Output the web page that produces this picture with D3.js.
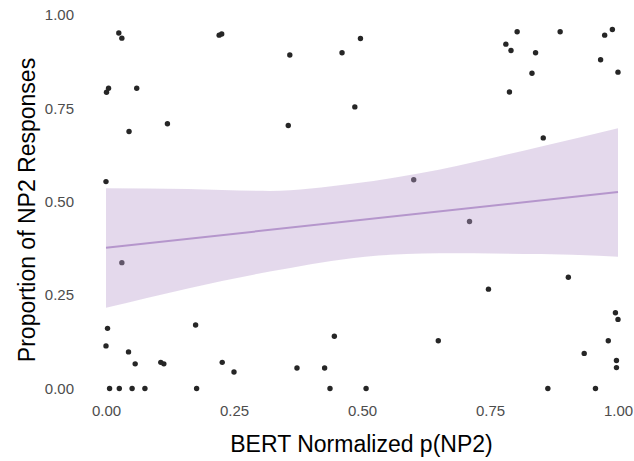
<!DOCTYPE html>
<html lang="en">
<head>
    <meta charset="UTF-8">
    <script src="https://d3js.org/d3.v7.min.js"></script>
    <title>BERT Normalized p(NP2) vs Proportion of NP2 Responses</title>
    <style>
        body { margin: 0; background: #fff; }
        text { font-family: "Liberation Sans", Arial, sans-serif; }
    </style>
</head>
<body>
    <svg id="chart"></svg>
    <script>
        // points (x = BERT normalized p(NP2), y = proportion of NP2 responses)
        const pointX = [0.025, 0.031, 0.221, 0.226, 0.005, 0.001, 0.060, 0.120, 0.045, 0.000,
            0.497, 0.359, 0.461, 0.486, 0.356, 0.601,
            0.803, 0.887, 0.989, 0.974, 0.781, 0.791, 0.839, 0.966, 0.832, 1.000, 0.788, 0.854,
            0.031, 0.003, 0.175, 0.000, 0.044, 0.057, 0.107, 0.113, 0.227, 0.250, 0.007, 0.026, 0.051, 0.076, 0.177,
            0.446, 0.649, 0.373, 0.427, 0.4375, 0.508,
            0.710, 0.903, 0.747, 0.995, 1.000, 0.981, 0.934, 0.997, 0.997, 0.863, 0.956];
        const pointY = [0.952, 0.938, 0.946, 0.949, 0.804, 0.793, 0.804, 0.709, 0.688, 0.554,
            0.937, 0.893, 0.899, 0.754, 0.704, 0.559,
            0.955, 0.955, 0.961, 0.946, 0.922, 0.905, 0.899, 0.880, 0.844, 0.847, 0.794, 0.671,
            0.337, 0.161, 0.170, 0.114, 0.098, 0.066, 0.070, 0.066, 0.070, 0.044, 0, 0, 0, 0, 0,
            0.140, 0.128, 0.055, 0.055, 0, 0,
            0.447, 0.298, 0.266, 0.203, 0.185, 0.128, 0.094, 0.075, 0.056, 0, 0];

        // fitted line and its confidence band
        const fitX = [0, 1];
        const fitY = [0.377, 0.526];
        const bandX = [0, 0.16, 0.32, 0.48, 0.65, 0.85, 1.0];
        const bandLo = [0.216, 0.268, 0.313, 0.349, 0.362, 0.360, 0.353];
        const bandHi = [0.536, 0.534, 0.529, 0.548, 0.586, 0.648, 0.697];

        const tickVals = [0, 0.25, 0.5, 0.75, 1];
        const tickLabels = ["0.00", "0.25", "0.50", "0.75", "1.00"];

        const w = 634;
        const h = 461;

        const svg = d3.select("#chart")
            .attr("width", w)
            .attr("height", h);

        const x = d3.scaleLinear().domain([0, 1]).range([106, 618]);
        const y = d3.scaleLinear().domain([0, 1]).range([388.5, 15]);

        // points
        const points = pointX.map((v, i) => ({ x: v, y: pointY[i] }));
        svg.append("g")
            .selectAll("circle")
            .data(points)
            .enter()
            .append("circle")
            .attr("cx", d => x(d.x))
            .attr("cy", d => y(d.y))
            .attr("r", 2.7)
            .attr("fill", "#262626");

        // band drawn on top, semi transparent
        const band = bandX.map((v, i) => ({ x: v, lo: bandLo[i], hi: bandHi[i] }));
        const area = d3.area()
            .x(d => x(d.x))
            .y0(d => y(d.lo))
            .y1(d => y(d.hi))
            .curve(d3.curveMonotoneX);
        svg.append("path")
            .datum(band)
            .attr("d", area)
            .attr("fill", "#BBA0D0")
            .attr("fill-opacity", 0.4);

        const fit = fitX.map((v, i) => ({ x: v, y: fitY[i] }));
        svg.append("path")
            .datum(fit)
            .attr("d", d3.line().x(d => x(d.x)).y(d => y(d.y)))
            .attr("fill", "none")
            .attr("stroke", "#B596CC")
            .attr("stroke-width", 2);

        // axes: labels only, no lines or ticks
        const xAxis = d3.axisBottom(x)
            .tickValues(tickVals)
            .tickFormat((d, i) => tickLabels[i])
            .tickSize(0)
            .tickPadding(0);
        const gx = svg.append("g")
            .attr("transform", "translate(0,405)")
            .call(xAxis);
        gx.select(".domain").remove();
        gx.selectAll("text")
            .attr("font-size", 15)
            .attr("font-family", "Liberation Sans, Arial, sans-serif")
            .attr("fill", "#4D4D4D");

        const yAxis = d3.axisLeft(y)
            .tickValues(tickVals)
            .tickFormat((d, i) => tickLabels[i])
            .tickSize(0)
            .tickPadding(0);
        const gy = svg.append("g")
            .attr("transform", "translate(74,0)")
            .call(yAxis);
        gy.select(".domain").remove();
        gy.selectAll("text")
            .attr("font-size", 15)
            .attr("font-family", "Liberation Sans, Arial, sans-serif")
            .attr("fill", "#4D4D4D");

        // titles
        svg.append("text")
            .attr("x", 361.5)
            .attr("y", 451.5)
            .attr("text-anchor", "middle")
            .attr("font-size", 23)
            .attr("fill", "#000")
            .text("BERT Normalized p(NP2)");

        svg.append("text")
            .attr("transform", "translate(35,210) rotate(-90)")
            .attr("text-anchor", "middle")
            .attr("font-size", 23)
            .attr("fill", "#000")
            .text("Proportion of NP2 Responses");
    </script>
</body>
</html>
